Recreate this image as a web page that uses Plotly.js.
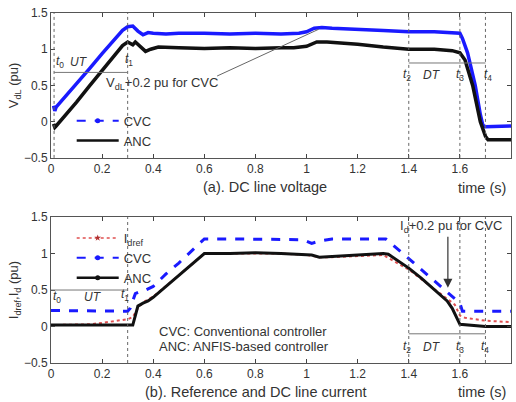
<!DOCTYPE html>
<html><head><meta charset="utf-8">
<script src="https://cdn.plot.ly/plotly-3.0.1.min.js"></script>
<style>body{margin:0;background:#fff}#c{width:516px;height:402px}</style>
</head><body><div id="c"></div>
<script>
// (a) DC line voltage
const tV_cvc = [0.01,0.015,0.02,0.03,0.05,0.1,0.15,0.2,0.25,0.28,0.3,0.32,0.34,0.36,0.38,0.4,0.45,0.5,0.6,0.7,0.8,0.9,0.97,1.0,1.03,1.06,1.1,1.2,1.3,1.4,1.5,1.6,1.61,1.63,1.66,1.68,1.69,1.7,1.75,1.8];
const vCVC   = [0.22,0.15,0.2,0.24,0.32,0.53,0.73,0.94,1.14,1.26,1.31,1.32,1.25,1.2,1.23,1.22,1.21,1.22,1.22,1.21,1.22,1.21,1.22,1.24,1.29,1.3,1.29,1.28,1.26,1.24,1.24,1.22,1.15,0.95,0.5,0.1,-0.05,-0.07,-0.06,-0.06];
const tV_anc = [0.01,0.015,0.02,0.025,0.05,0.1,0.15,0.2,0.25,0.28,0.3,0.32,0.33,0.35,0.37,0.39,0.42,0.5,0.6,0.7,0.8,0.9,0.95,1.0,1.04,1.08,1.2,1.3,1.4,1.5,1.57,1.6,1.62,1.65,1.68,1.7,1.71,1.75,1.8];
const vANC   = [-0.03,-0.08,-0.06,-0.04,0.06,0.27,0.49,0.7,0.92,1.05,1.1,1.06,1.1,1.03,0.97,1.0,1.03,1.02,1.01,1.02,1.01,1.02,1.02,1.04,1.1,1.1,1.07,1.03,1.0,1.0,0.98,0.95,0.85,0.5,0.0,-0.2,-0.25,-0.25,-0.25];

// (b) Reference and DC line current
const tI_cvc = [0.0,0.1,0.2,0.3,0.31,0.32,0.33,0.35,0.37,0.4,0.45,0.5,0.55,0.6,0.7,0.8,0.9,0.98,1.0,1.02,1.05,1.08,1.1,1.2,1.3,1.31,1.4,1.5,1.55,1.6,1.61,1.7,1.8];
const iCVC   = [0.22,0.22,0.21,0.21,0.25,0.35,0.45,0.48,0.5,0.55,0.72,0.87,1.03,1.2,1.2,1.2,1.2,1.19,1.17,1.14,1.17,1.19,1.2,1.2,1.2,1.2,0.93,0.63,0.48,0.32,0.21,0.21,0.21];
const tI_anc = [0.0,0.1,0.2,0.3,0.32,0.33,0.34,0.36,0.38,0.4,0.45,0.5,0.55,0.6,0.7,0.8,0.9,1.0,1.02,1.05,1.1,1.2,1.3,1.32,1.36,1.4,1.45,1.5,1.55,1.57,1.59,1.6,1.7,1.8];
const iANC   = [0.02,0.02,0.02,0.02,0.02,0.15,0.28,0.32,0.35,0.4,0.55,0.7,0.85,1.0,1.0,1.01,1.0,0.99,0.98,0.95,0.96,0.98,1.0,0.99,0.9,0.8,0.66,0.5,0.35,0.25,0.1,0.03,0.0,0.0];
const tI_ref = [0.0,0.15,0.2,0.25,0.3,0.32,0.34,0.36,0.4,0.5,0.6,0.7,0.8,0.9,1.0,1.05,1.1,1.2,1.3,1.4,1.5,1.58,1.6,1.62,1.7,1.8];
const iREF   = [0.02,0.03,0.05,0.07,0.1,0.13,0.25,0.33,0.41,0.7,1.0,1.0,1.0,1.0,0.98,0.95,0.95,0.97,0.98,0.78,0.52,0.3,0.15,0.12,0.08,0.06];

const blue = '#1a1aff', black = '#111', red = '#e05050', txt = '#333';
const F = 'Liberation Sans, Arial, sans-serif';

const traces = [
  {x: tV_cvc, y: vCVC, mode:'lines', line:{color:blue, width:3.5}, showlegend:false, xaxis:'x', yaxis:'y'},
  {x: tV_anc, y: vANC, mode:'lines', line:{color:black, width:3.5}, showlegend:false, xaxis:'x', yaxis:'y'},
  {x:[null], y:[null], name:'CVC', mode:'lines+markers', line:{color:blue, width:2, dash:'dash'}, marker:{color:blue, size:5}, xaxis:'x', yaxis:'y', legend:'legend'},
  {x:[null], y:[null], name:'ANC', mode:'lines', line:{color:black, width:2.5}, xaxis:'x', yaxis:'y', legend:'legend'},

  {x: tI_cvc, y: iCVC, mode:'lines', line:{color:blue, width:3, dash:'dash'}, showlegend:false, xaxis:'x2', yaxis:'y2'},
  {x: tI_ref, y: iREF, mode:'lines', line:{color:red, width:2, dash:'dot'}, showlegend:false, xaxis:'x2', yaxis:'y2'},
  {x: tI_anc, y: iANC, mode:'lines', line:{color:black, width:3}, showlegend:false, xaxis:'x2', yaxis:'y2'},
  {x:[null], y:[null], name:'I<sub>dref</sub>', mode:'lines+markers', line:{color:red, width:1.5, dash:'dot'}, marker:{color:'#b03030', size:5, symbol:'star'}, xaxis:'x2', yaxis:'y2', legend:'legend2'},
  {x:[null], y:[null], name:'CVC', mode:'lines+markers', line:{color:blue, width:2, dash:'dash'}, marker:{color:blue, size:5}, xaxis:'x2', yaxis:'y2', legend:'legend2'},
  {x:[null], y:[null], name:'ANC', mode:'lines+markers', line:{color:black, width:2.5}, marker:{color:black, size:5}, xaxis:'x2', yaxis:'y2', legend:'legend2'}
];

const ax = (extra) => Object.assign({
  range:[0,1.8], dtick:0.2, ticks:'inside', ticklen:4, tickcolor:'#444', mirror:'ticks',
  showline:true, linecolor:'#555', linewidth:1, showgrid:false, zeroline:false,
  tickfont:{family:F, size:12, color:txt}
}, extra);
const ay = (extra) => Object.assign({
  range:[-0.5,1.5], dtick:0.5, ticks:'inside', ticklen:4, tickcolor:'#444', mirror:'ticks',
  showline:true, linecolor:'#555', linewidth:1, showgrid:false, zeroline:false,
  tickfont:{family:F, size:12, color:txt}, tickformat:'~g'
}, extra);

const vline = (xr, yr, x) => ({type:'line', xref:xr, yref:yr+' domain', x0:x, x1:x, y0:0, y1:1, line:{color:'#666', width:1, dash:'dot'}});
const hline = (xr, yr, x0, x1, y) => ({type:'line', xref:xr, yref:yr, x0:x0, x1:x1, y0:y, y1:y, line:{color:'#777', width:1}});

const shapes = [
  vline('x','y',0.012), vline('x','y',0.3), vline('x','y',1.4), vline('x','y',1.6), vline('x','y',1.7),
  hline('x','y',0.012,0.3,0.68), hline('x','y',1.4,1.7,0.81),
  {type:'line', xref:'x', yref:'y', x0:0.65, y0:0.63, x1:1.047, y1:1.275, line:{color:'#666', width:1}},
  vline('x2','y2',0.3), vline('x2','y2',1.4), vline('x2','y2',1.6), vline('x2','y2',1.7),
  hline('x2','y2',0.0,0.3,0.5), hline('x2','y2',1.4,1.7,-0.1)
];

const t = (xr, yr, x, y, text, o) => Object.assign({xref:xr, yref:yr, x:x, y:y, text:text, showarrow:false, xanchor:'center', yanchor:'middle', font:{family:F, size:12, color:txt}}, o||{});
const cap = {family:F, size:13, color:txt};
const capL = {family:F, size:14.5, color:txt};
const annotations = [
  t('x','y',0.035,0.83,'<i>t</i><sub>0</sub>'), t('x','y',0.11,0.83,'<i>UT</i>'), t('x','y',0.305,0.85,'<i>t</i><sub>1</sub>'),
  t('x','y',0.435,0.53,'V<sub>dL</sub>+0.2 pu for CVC', {font:cap}),
  t('x','y',1.392,0.64,'<i>t</i><sub>2</sub>'), t('x','y',1.49,0.64,'<i>DT</i>'), t('x','y',1.6,0.64,'<i>t</i><sub>3</sub>'), t('x','y',1.71,0.64,'<i>t</i><sub>4</sub>'),
  t('paper','paper',0.465,0.503,'(a). DC line voltage', {font:capL}), t('paper','paper',0.937,0.5,'time (s)', {font:capL}),

  t('x2','y2',0.025,0.41,'<i>t</i><sub>0</sub>'), t('x2','y2',0.165,0.41,'<i>UT</i>'), t('x2','y2',0.29,0.43,'<i>t</i><sub>1</sub>'),
  t('x2','y2',1.565,1.37,'I<sub>d</sub>+0.2 pu for CVC', {font:cap}),
  {xref:'x2', yref:'y2', axref:'x2', ayref:'y2', x:1.553, y:0.53, ax:1.553, ay:1.25, text:'', showarrow:true, arrowhead:2, arrowsize:1.5, arrowwidth:1.2, arrowcolor:'#333'},
  t('x2','y2',0.415,-0.07,'CVC: Conventional controller', {xanchor:'left', font:cap}),
  t('x2','y2',0.415,-0.28,'ANC: ANFIS-based controller', {xanchor:'left', font:cap}),
  t('x2','y2',1.392,-0.28,'<i>t</i><sub>2</sub>'), t('x2','y2',1.49,-0.28,'<i>DT</i>'), t('x2','y2',1.6,-0.28,'<i>t</i><sub>3</sub>'), t('x2','y2',1.70,-0.28,'<i>t</i><sub>4</sub>'),
  t('paper','paper',0.445,-0.083,'(b). Reference and DC line current', {font:capL}), t('paper','paper',0.937,-0.083,'time (s)', {font:capL})
];

const legBase = {bgcolor:'rgba(0,0,0,0)', borderwidth:0, font:{family:F, size:13, color:txt}, itemwidth:42, tracegroupgap:0, xanchor:'left', yanchor:'top'};
const layout = {
  width:516, height:402, margin:{l:51, r:5, t:13, b:39},
  paper_bgcolor:'#fff', plot_bgcolor:'#fff', font:{family:F, color:txt},
  xaxis: ax({domain:[0,1], anchor:'y'}),
  yaxis: ay({domain:[0.586,1], anchor:'x', title:{text:'V<sub>dL</sub> (pu)', font:{family:F, size:13, color:txt}, standoff:2}}),
  xaxis2: ax({domain:[0,1], anchor:'y2'}),
  yaxis2: ay({domain:[0,0.417], anchor:'x2', title:{text:'I<sub>dref</sub>,I<sub>d</sub> (pu)', font:{family:F, size:13, color:txt}, standoff:2}}),
  legend: Object.assign({x:0.045, y:0.735}, legBase),
  legend2: Object.assign({x:0.045, y:0.4}, legBase),
  shapes: shapes, annotations: annotations
};
Plotly.newPlot('c', traces, layout, {displayModeBar:false, staticPlot:true});
</script></body></html>
